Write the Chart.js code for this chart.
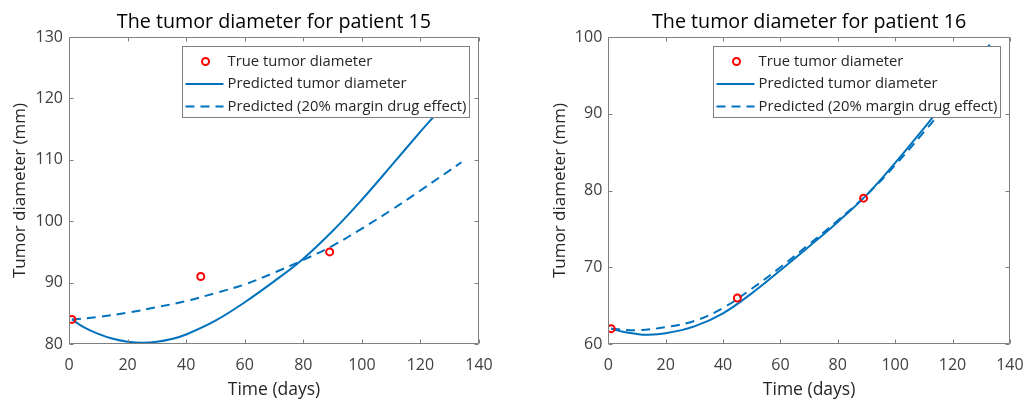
<!DOCTYPE html>
<html>
<head>
<meta charset="utf-8">
<title>Tumor diameter</title>
<script src="https://cdn.jsdelivr.net/npm/chart.js@4/dist/chart.umd.min.js"></script>
<style>
  html, body { margin: 0; padding: 0; background: #ffffff; }
  #wrap { position: relative; width: 1035px; height: 404px; overflow: hidden; }
  #wrap canvas { position: absolute; top: 0; }
</style>
</head>
<body>
<div id="wrap">
  <canvas id="chart15" width="517" height="404" style="left:0px"></canvas>
  <canvas id="chart16" width="518" height="404" style="left:517px"></canvas>
</div>
<script>
// ---- data -------------------------------------------------------------
const seriesLabels = ['True tumor diameter', 'Predicted tumor diameter', 'Predicted (20% margin drug effect)'];
const xTicks = [0, 20, 40, 60, 80, 100, 120, 140];

// Patient 15
const p15ObsDays = [1, 45, 89];
const p15ObsDiam = [84, 91, 95];
const p15PredDays = [1, 5, 10, 15, 20, 25, 30, 35, 40, 50, 60, 70, 80, 90, 100, 110, 120, 125, 134];
const p15Pred     = [84.0, 82.75, 81.65, 80.85, 80.38, 80.2, 80.35, 80.8, 81.55, 83.8, 86.8, 90.2, 93.9, 98.4, 103.5, 109.0, 114.6, 117.3, 122.4];
const p15MarginDays = [1, 10, 20, 30, 40, 50, 60, 70, 80, 90, 100, 110, 120, 134];
const p15Margin     = [84.0, 84.4, 85.1, 86.0, 87.0, 88.3, 89.7, 91.6, 93.7, 96.0, 98.8, 101.8, 105.0, 109.6];
const p15YTicks = [80, 90, 100, 110, 120, 130];

// Patient 16
const p16ObsDays = [1, 45, 89];
const p16ObsDiam = [62, 66, 79];
const p16PredDays = [1, 5, 10, 13, 20, 30, 40, 50, 60, 70, 80, 90, 100, 110, 120, 133];
const p16Pred     = [62.0, 61.6, 61.3, 61.2, 61.4, 62.3, 64.0, 66.6, 69.6, 72.7, 75.9, 79.4, 83.6, 88.1, 92.8, 99.0];
const p16MarginDays = [1, 10, 20, 30, 40, 50, 60, 70, 80, 90, 100, 110, 120, 133];
const p16Margin     = [62.0, 61.8, 62.2, 63.0, 64.7, 67.2, 70.0, 73.0, 76.1, 79.4, 83.3, 87.6, 92.1, 98.0];
const p16YTicks = [60, 70, 80, 90, 100];

// ---- styling ----------------------------------------------------------
const FONT = "'Open Sans', 'Noto Sans', 'DejaVu Sans', sans-serif";
const LINE_BLUE = '#0072BD';
const MARK_RED = '#FF0000';
const AXIS_GRAY = '#808080';
const TEXT_DARK = '#262626';
const TICK_TEXT = '#404040';

const toPoints = (xs, ys) => xs.map((x, i) => ({ x: x, y: ys[i] }));

// Box around the plot, inward tick marks on all four sides, and the legend
// panel drawn on top of the curves.
const axesFrame = {
  id: 'axesFrame',
  afterDatasetsDraw(chart, args, opts) {
    const { ctx, chartArea: a } = chart;
    const xs = chart.scales.x, ys = chart.scales.y;
    const L = Math.round(a.left) + 0.5, R = Math.round(a.right) - 0.5;
    const T = Math.round(a.top) + 0.5, B = Math.round(a.bottom) - 0.5;
    ctx.save();
    ctx.strokeStyle = AXIS_GRAY;
    ctx.lineWidth = 1;
    ctx.beginPath();
    ctx.rect(L, T, R - L, B - T);
    const len = opts.tickLen;
    xs.ticks.forEach(t => {
      const px = Math.round(xs.getPixelForValue(t.value)) + 0.5;
      ctx.moveTo(px, B); ctx.lineTo(px, B - len);
      ctx.moveTo(px, T); ctx.lineTo(px, T + len);
    });
    ys.ticks.forEach(t => {
      const py = Math.round(ys.getPixelForValue(t.value)) + 0.5;
      ctx.moveTo(L, py); ctx.lineTo(L + len, py);
      ctx.moveTo(R, py); ctx.lineTo(R - len, py);
    });
    ctx.stroke();

    // legend panel
    const lg = opts.legend;
    const bx = Math.round(a.right - lg.insetRight - lg.width) + 0.5;
    const by = Math.round(a.top + lg.insetTop) + 0.5;
    ctx.fillStyle = '#ffffff';
    ctx.fillRect(bx, by, lg.width, lg.height);
    ctx.strokeStyle = AXIS_GRAY;
    ctx.strokeRect(bx, by, lg.width, lg.height);
    ctx.font = lg.fontSize + 'px ' + FONT;
    ctx.textBaseline = 'middle';
    ctx.textAlign = 'left';
    chart.data.datasets.forEach((ds, i) => {
      const cy = by + lg.firstRow + i * lg.rowGap;
      if (ds.showLine === false) {
        ctx.beginPath();
        ctx.arc(bx + lg.markX, cy, ds.pointRadius, 0, Math.PI * 2);
        ctx.strokeStyle = ds.pointBorderColor;
        ctx.lineWidth = ds.pointBorderWidth;
        ctx.stroke();
      } else {
        ctx.beginPath();
        ctx.strokeStyle = ds.borderColor;
        ctx.lineWidth = ds.borderWidth;
        ctx.setLineDash(ds.borderDash || []);
        ctx.moveTo(bx + lg.lineX0, cy);
        ctx.lineTo(bx + lg.lineX1, cy);
        ctx.stroke();
        ctx.setLineDash([]);
      }
      ctx.fillStyle = TEXT_DARK;
      ctx.fillText(ds.label, bx + lg.textX, cy);
    });
    ctx.restore();
  }
};

function makeChart(canvasId, cfg) {
  return new Chart(document.getElementById(canvasId), {
    type: 'line',
    data: {
      datasets: [
        {
          label: seriesLabels[0],
          data: toPoints(cfg.obsDays, cfg.obsDiam),
          showLine: false,
          pointRadius: 3.5,
          pointBorderWidth: 2,
          pointBorderColor: MARK_RED,
          pointBackgroundColor: 'rgba(0,0,0,0)',
          borderColor: MARK_RED,
          pointHoverRadius: 3.5
        },
        {
          label: seriesLabels[1],
          data: toPoints(cfg.predDays, cfg.pred),
          borderColor: LINE_BLUE,
          borderWidth: 2,
          pointRadius: 0,
          tension: 0.4,
          fill: false
        },
        {
          label: seriesLabels[2],
          data: toPoints(cfg.marginDays, cfg.margin),
          borderColor: LINE_BLUE,
          borderWidth: 2,
          borderDash: [9, 6],
          pointRadius: 0,
          tension: 0.4,
          fill: false
        }
      ]
    },
    options: {
      responsive: false,
      animation: false,
      devicePixelRatio: 1,
      events: [],
      layout: { padding: { left: 0, right: cfg.padRight, top: 0, bottom: 0 } },
      plugins: {
        legend: { display: false },
        tooltip: { enabled: false },
        title: {
          display: true,
          text: cfg.title,
          fullSize: false,
          color: '#000000',
          font: { family: FONT, size: 19.7, weight: 'normal' },
          padding: { top: 10.2, bottom: 3.16 }
        },
        axesFrame: {
          tickLen: 4,
          legend: {
            width: 287, height: 71, insetRight: 10, insetTop: 9,
            firstRow: 15, rowGap: 22.5,
            markX: 23, lineX0: 3, lineX1: 41, textX: 45, fontSize: 14.8
          }
        }
      },
      scales: {
        x: {
          type: 'linear',
          min: 0, max: 140,
          afterBuildTicks: s => { s.ticks = xTicks.map(v => ({ value: v })); },
          afterFit: s => { s.height = 60; },
          grid: { display: false, drawTicks: false },
          border: { display: false },
          ticks: { padding: 11.4, color: TICK_TEXT, font: { family: FONT, size: 16 }, maxRotation: 0 },
          title: {
            display: true, text: 'Time (days)', color: TEXT_DARK,
            font: { family: FONT, size: 17.5 }, padding: { top: 0, bottom: 3.6 }
          }
        },
        y: {
          type: 'linear',
          min: cfg.yTicks[0], max: cfg.yTicks[cfg.yTicks.length - 1],
          afterBuildTicks: s => { s.ticks = cfg.yTicks.map(v => ({ value: v })); },
          afterFit: s => { s.width = cfg.yAxisWidth; },
          grid: { display: false, drawTicks: false },
          border: { display: false },
          ticks: { padding: 6, color: TICK_TEXT, font: { family: FONT, size: 16 } },
          title: {
            display: true, text: 'Tumor diameter (mm)', color: TEXT_DARK,
            font: { family: FONT, size: 17 }, padding: { top: cfg.yTitlePad, bottom: 0 }
          }
        }
      }
    },
    plugins: [axesFrame]
  });
}

makeChart('chart15', {
  title: 'The tumor diameter for patient 15',
  obsDays: p15ObsDays, obsDiam: p15ObsDiam,
  predDays: p15PredDays, pred: p15Pred,
  marginDays: p15MarginDays, margin: p15Margin,
  yTicks: p15YTicks,
  yAxisWidth: 69, padRight: 38, yTitlePad: 10.3
});

makeChart('chart16', {
  title: 'The tumor diameter for patient 16',
  obsDays: p16ObsDays, obsDiam: p16ObsDiam,
  predDays: p16PredDays, pred: p16Pred,
  marginDays: p16MarginDays, margin: p16Margin,
  yTicks: p16YTicks,
  yAxisWidth: 91.3, padRight: 16.7, yTitlePad: 32.8
});
</script>
</body>
</html>
